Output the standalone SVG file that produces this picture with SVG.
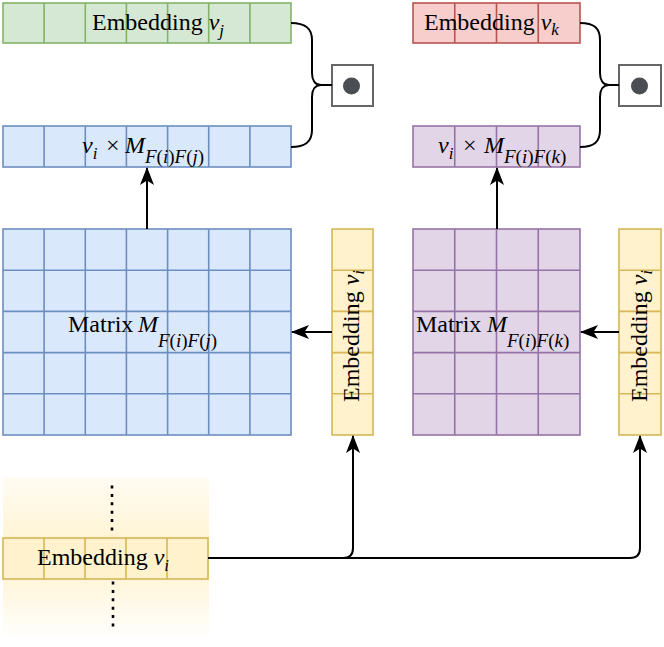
<svg xmlns="http://www.w3.org/2000/svg" width="664" height="647" viewBox="0 0 664 647">
<style>
text{font-family:"Liberation Serif","Times New Roman",serif;font-size:24px;fill:#000}
.it{font-style:italic}
.sub{font-size:17px;font-style:italic}
.sub2{font-size:19px}
.cell{stroke-width:1.6}
.green{fill:#d5e8d4;stroke:#82b366}
.blue{fill:#dae8fc;stroke:#6c8ebf}
.red{fill:#f8cecc;stroke:#b85450}
.purple{fill:#e1d5e7;stroke:#9673a6}
.yellow{fill:#fff2cc;stroke:#d6b656}
.gl{fill:none;stroke-width:1.6}
.conn{fill:none;stroke:#000;stroke-width:2}
.dots{fill:none;stroke:#000;stroke-width:2.6;stroke-dasharray:3 5.4}
.dotbox{fill:#fff;stroke:#666;stroke-width:2}
</style>
<defs>
<marker id="arr" viewBox="0 0 18 14" refX="17" refY="7" markerWidth="18" markerHeight="14" orient="auto" markerUnits="userSpaceOnUse">
<path d="M0,0 L18,7 L0,14 L4.5,7 Z" fill="#000"/>
</marker>
<linearGradient id="fade" x1="0" y1="0" x2="0" y2="1">
<stop offset="0" stop-color="#fff2cc" stop-opacity="0.25"/>
<stop offset="0.5" stop-color="#fff2cc" stop-opacity="1"/>
<stop offset="1" stop-color="#fff2cc" stop-opacity="0.05"/>
</linearGradient>
</defs>

<g id="highlight">
<rect x="3" y="477" width="206" height="160" fill="url(#fade)"/>
<line class="dots" x1="112" y1="485.5" x2="112" y2="530.5"/>
<line class="dots" x1="113" y1="581.5" x2="113" y2="626.5"/>
</g>

<g id="emb-vj">
<rect class="green cell" x="3" y="3" width="288" height="40"/>
<path class="gl" stroke="#82b366" d="M44.1,3V43M85.3,3V43M126.4,3V43M167.6,3V43M208.7,3V43M249.9,3V43"/>
<text x="92" y="30">Embedding <tspan class="it">v</tspan><tspan class="sub" dy="6">j</tspan></text>
</g>

<g id="dot-j">
<rect class="dotbox" x="332" y="65" width="41" height="41"/>
<circle cx="351.5" cy="86" r="8.5" fill="#4a4d52"/>
</g>

<g id="vi-Mij">
<rect class="blue cell" x="3" y="126" width="288" height="41"/>
<path class="gl" stroke="#6c8ebf" d="M44.1,126V167M85.3,126V167M126.4,126V167M167.6,126V167M208.7,126V167M249.9,126V167"/>
<text y="153"><tspan class="it" x="82">v</tspan><tspan class="sub" dy="6">i</tspan><tspan x="106" dy="-6">×</tspan><tspan class="it" x="125">M</tspan><tspan class="sub2" dy="10"><tspan class="it">F</tspan>(<tspan class="it">i</tspan>)<tspan class="it">F</tspan>(<tspan class="it">j</tspan>)</tspan></text>
</g>

<g id="matrix-ij">
<rect class="blue cell" x="3" y="229" width="288" height="206"/>
<path class="gl" stroke="#6c8ebf" d="M44.1,229V435M85.3,229V435M126.4,229V435M167.6,229V435M208.7,229V435M249.9,229V435M3,270.2H291M3,311.4H291M3,352.6H291M3,393.8H291"/>
<text y="332"><tspan x="68">Matrix </tspan><tspan class="it" x="138">M</tspan><tspan class="sub2" dy="15"><tspan class="it">F</tspan>(<tspan class="it">i</tspan>)<tspan class="it">F</tspan>(<tspan class="it">j</tspan>)</tspan></text>
</g>

<g id="emb-vi-left">
<rect class="yellow cell" x="332" y="229" width="41" height="206"/>
<path class="gl" stroke="#d6b656" d="M332,270.2H373M332,311.4H373M332,352.6H373M332,393.8H373"/>
<text transform="translate(359,402) rotate(-90)" x="0" y="0">Embedding <tspan class="it">v</tspan><tspan class="sub" dy="5">i</tspan></text>
</g>

<g id="emb-vk">
<rect class="red cell" x="413" y="3" width="167" height="40"/>
<path class="gl" stroke="#b85450" d="M454.75,3V43M496.5,3V43M538.25,3V43"/>
<text x="424" y="30">Embedding <tspan class="it">v</tspan><tspan class="sub" dy="5">k</tspan></text>
</g>

<g id="dot-k">
<rect class="dotbox" x="619" y="65" width="42" height="41"/>
<circle cx="639.5" cy="86" r="8.5" fill="#4a4d52"/>
</g>

<g id="vi-Mik">
<rect class="purple cell" x="413" y="126" width="167" height="41"/>
<path class="gl" stroke="#9673a6" d="M454.75,126V167M496.5,126V167M538.25,126V167"/>
<text y="153"><tspan class="it" x="438">v</tspan><tspan class="sub" dy="6">i</tspan><tspan x="463" dy="-6">×</tspan><tspan class="it" x="484">M</tspan><tspan class="sub2" dy="10"><tspan class="it">F</tspan>(<tspan class="it">i</tspan>)<tspan class="it">F</tspan>(<tspan class="it">k</tspan>)</tspan></text>
</g>

<g id="matrix-ik">
<rect class="purple cell" x="413" y="229" width="167" height="206"/>
<path class="gl" stroke="#9673a6" d="M454.75,229V435M496.5,229V435M538.25,229V435M413,270.2H580M413,311.4H580M413,352.6H580M413,393.8H580"/>
<text y="332"><tspan x="416">Matrix </tspan><tspan class="it" x="487">M</tspan><tspan class="sub2" dy="15"><tspan class="it">F</tspan>(<tspan class="it">i</tspan>)<tspan class="it">F</tspan>(<tspan class="it">k</tspan>)</tspan></text>
</g>

<g id="emb-vi-right">
<rect class="yellow cell" x="619" y="229" width="42" height="206"/>
<path class="gl" stroke="#d6b656" d="M619,270.2H661M619,311.4H661M619,352.6H661M619,393.8H661"/>
<text transform="translate(647,402) rotate(-90)" x="0" y="0">Embedding <tspan class="it">v</tspan><tspan class="sub" dy="5">i</tspan></text>
</g>

<g id="emb-vi-input">
<rect class="yellow cell" x="3" y="538" width="205" height="41"/>
<path class="gl" stroke="#d6b656" d="M44,538V579M85,538V579M126,538V579M167,538V579"/>
<text x="37" y="565">Embedding <tspan class="it">v</tspan><tspan class="sub" dy="6">i</tspan></text>
</g>

<g id="connectors">
<path class="conn" d="M291,23 C305,23 312,28 312,40 L312,73 C312,80 315,85 321,85 L332,85 M321,85 C315,85 312,90 312,97 L312,130 C312,142 305,147 291,147"/>
<path class="conn" d="M580,23 C594,23 600,28 600,40 L600,73 C600,80 603,85 609,85 L619,85 M609,85 C603,85 600,90 600,97 L600,130 C600,142 594,147 580,147"/>
<path class="conn" marker-end="url(#arr)" d="M147,229 V168"/>
<path class="conn" marker-end="url(#arr)" d="M497,229 V168"/>
<path class="conn" marker-end="url(#arr)" d="M332,332 H292"/>
<path class="conn" marker-end="url(#arr)" d="M619,332 H581"/>
<path class="conn" marker-end="url(#arr)" d="M208,558 H343 Q353,558 353,548 V436"/>
<path class="conn" marker-end="url(#arr)" d="M208,558 H630 Q640,558 640,548 V436"/>
</g>
</svg>
